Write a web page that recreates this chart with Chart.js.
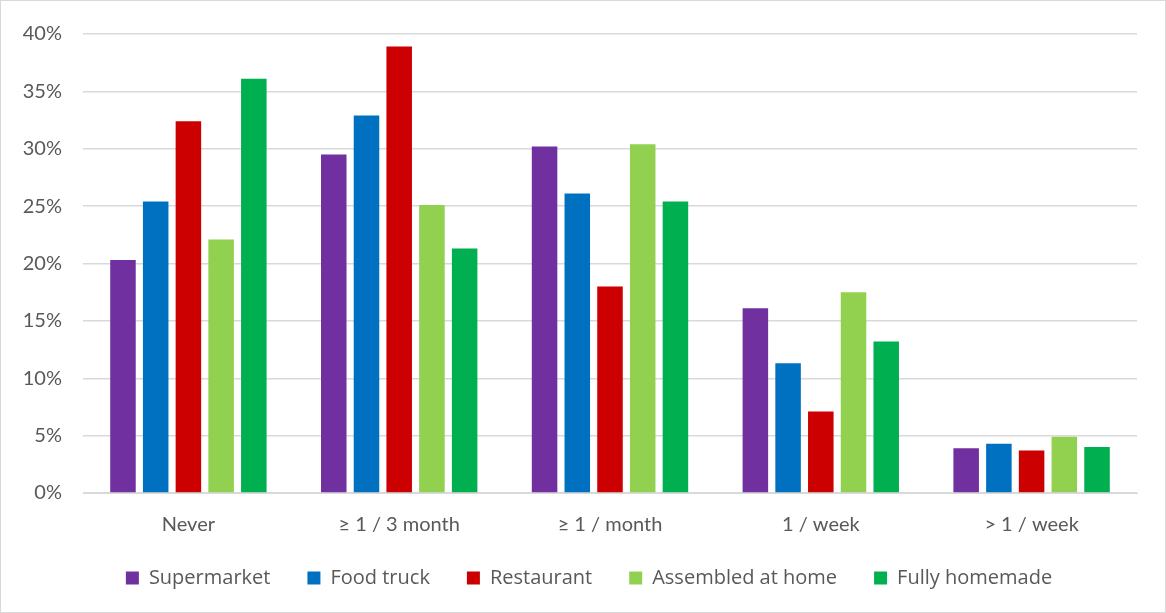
<!DOCTYPE html>
<html lang="en">
<head>
    <meta charset="UTF-8">
    <title>Meal source frequency</title>
    <script src="https://cdn.jsdelivr.net/npm/chart.js"></script>
    <style>
        html, body {
            margin: 0;
            padding: 0;
            background: #fff;
        }
        .chart-box {
            position: relative;
            width: 1164px;
            height: 611px;
            border: 1px solid #d9d9d9;
        }
    </style>
</head>
<body>
    <div class="chart-box">
        <canvas id="barChart"></canvas>
    </div>

    <script>
        const categories = ['Never', '\u2265 1 / 3 month', '\u2265 1 / month', '1 / week', '> 1 / week'];
        const seriesNames = ['Supermarket', 'Food truck', 'Restaurant', 'Assembled at home', 'Fully homemade'];
        const supermarket = [20.3, 29.5, 30.2, 16.1, 3.9];
        const foodTruck = [25.4, 32.9, 26.1, 11.3, 4.3];
        const restaurant = [32.4, 38.9, 18.0, 7.1, 3.7];
        const assembledAtHome = [22.1, 25.1, 30.4, 17.5, 4.9];
        const fullyHomemade = [36.1, 21.3, 25.4, 13.2, 4.0];
        const yTicks = [0, 5, 10, 15, 20, 25, 30, 35, 40];

        const colors = ['#7030a0', '#0070c0', '#cc0000', '#92d050', '#00b050'];
        const values = [supermarket, foodTruck, restaurant, assembledAtHome, fullyHomemade];

        const textColor = '#595959';
        const gridColor = '#d9d9d9';
        const tickFont = { family: 'Lato, "Open Sans", sans-serif', size: 20 };
        const legendFont = { family: '"Open Sans", Lato, sans-serif', size: 20 };

        // legend keeps wide item spacing but a fixed height, drawn shifted
        const legendHeight = 63;
        const legendShiftX = 20;
        const legendShiftY = -18;
        const legendTweak = {
            id: 'legendTweak',
            afterInit(chart) {
                const legend = chart.legend;
                const fit = legend.fit.bind(legend);
                legend.fit = function () { fit(); this.height = legendHeight; };
                const draw = legend.draw.bind(legend);
                legend.draw = function () {
                    const c = this.ctx;
                    c.save();
                    c.translate(legendShiftX, legendShiftY);
                    draw();
                    c.restore();
                };
            }
        };

        const ctx = document.getElementById('barChart').getContext('2d');
        new Chart(ctx, {
            type: 'bar',
            data: {
                labels: categories,
                datasets: seriesNames.map((name, i) => ({
                    label: name,
                    data: values[i],
                    backgroundColor: colors[i],
                    borderWidth: 0,
                    categoryPercentage: 0.776,
                    barPercentage: 0.78
                }))
            },
            options: {
                responsive: true,
                maintainAspectRatio: false,
                animation: false,
                layout: {
                    padding: { left: 0, right: 28, top: 17, bottom: 0 }
                },
                scales: {
                    x: {
                        grid: { display: false },
                        border: { color: gridColor, width: 1 },
                        ticks: { color: textColor, font: tickFont, padding: 12 }
                    },
                    y: {
                        min: 0,
                        max: 40,
                        afterFit: (scale) => { scale.width = 82; },
                        afterBuildTicks: (scale) => {
                            scale.ticks = yTicks.map(v => ({ value: v }));
                        },
                        grid: { color: gridColor, lineWidth: 1.5, drawTicks: false },
                        border: { display: false },
                        ticks: {
                            color: textColor,
                            font: tickFont,
                            padding: 21,
                            callback: (v) => v + '%'
                        }
                    }
                },
                plugins: {
                    legend: {
                        position: 'bottom',
                        labels: {
                            color: textColor,
                            font: legendFont,
                            boxWidth: 13,
                            boxHeight: 13,
                            padding: 37
                        }
                    },
                    tooltip: { enabled: false }
                }
            },
            plugins: [legendTweak]
        });
    </script>
</body>
</html>
